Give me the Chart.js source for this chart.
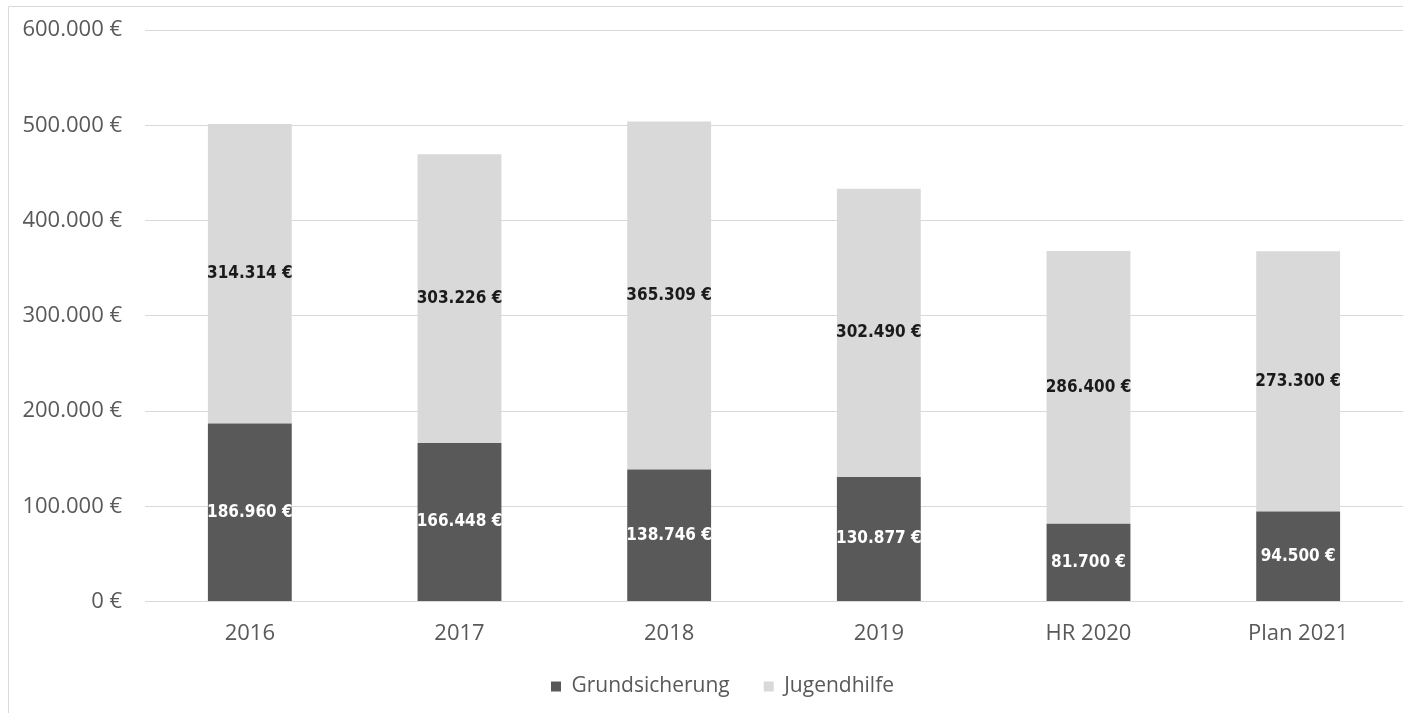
<!DOCTYPE html>
<html lang="de">
<head>
<meta charset="utf-8">
<title>Grundsicherung und Jugendhilfe</title>
<script src="https://cdn.jsdelivr.net/npm/chart.js@4/dist/chart.umd.min.js"></script>
<style>
  html, body { margin: 0; padding: 0; background: #fff; }
  #wrap { position: relative; width: 1403px; height: 713px; }
</style>
</head>
<body>
<div id="wrap"><canvas id="costChart" width="1403" height="713"></canvas></div>
<script>
// Jahre / Planwerte
const years = ['2016', '2017', '2018', '2019', 'HR 2020', 'Plan 2021'];
const grundsicherung = [186960, 166448, 138746, 130877, 81700, 94500];
const jugendhilfe = [314314, 303226, 365309, 302490, 286400, 273300];
const yTicks = [0, 100000, 200000, 300000, 400000, 500000, 600000];

const DARK = '#595959';
const LIGHT = '#d9d9d9';
const FONT = '"Open Sans", sans-serif';

// 1234567 -> "1.234.567 €"
function euro(v) {
  return String(Math.round(v)).replace(/\B(?=(\d{3})+(?!\d))/g, '.') + ' €';
}

// thin frame around the whole chart
const frame = {
  id: 'frame',
  beforeDraw(chart) {
    const ctx = chart.ctx;
    ctx.save();
    ctx.strokeStyle = LIGHT;
    ctx.lineWidth = 1;
    ctx.beginPath();
    ctx.moveTo(8.5, chart.height);
    ctx.lineTo(8.5, 6.5);
    ctx.lineTo(chart.width, 6.5);
    ctx.stroke();
    ctx.restore();
  }
};

// nudge the legend box: centred under the framed area, a bit higher
const legendShift = {
  id: 'legendShift',
  afterLayout(chart) {
    const lg = chart.legend;
    lg.left += 21;
    lg.right += 21;
    lg.top -= 24;
    lg.bottom -= 24;
  }
};

// value labels in the middle of every segment
const segmentLabels = {
  id: 'segmentLabels',
  afterDatasetsDraw(chart) {
    const ctx = chart.ctx;
    ctx.save();
    ctx.font = 'bold 17px "DejaVu Sans Condensed", "DejaVu Sans", sans-serif';
    ctx.textAlign = 'center';
    ctx.textBaseline = 'middle';
    chart.data.datasets.forEach((ds, i) => {
      const meta = chart.getDatasetMeta(i);
      meta.data.forEach((bar, j) => {
        const p = bar.getCenterPoint();
        ctx.fillStyle = ds.labelColor;
        ctx.fillText(euro(ds.data[j]), p.x, p.y);
      });
    });
    ctx.restore();
  }
};

new Chart(document.getElementById('costChart'), {
  type: 'bar',
  data: {
    labels: years,
    datasets: [
      {
        label: 'Grundsicherung',
        data: grundsicherung,
        backgroundColor: DARK,
        labelColor: '#ffffff'
      },
      {
        label: 'Jugendhilfe',
        data: jugendhilfe,
        backgroundColor: LIGHT,
        labelColor: '#1a1a1a'
      }
    ]
  },
  options: {
    responsive: false,
    animation: false,
    devicePixelRatio: 1,
    categoryPercentage: 1,
    barPercentage: 0.4,
    layout: { padding: { left: 0, right: 0, top: 30, bottom: -18 } },
    plugins: {
      legend: {
        position: 'bottom',
        labels: {
          color: DARK,
          font: { family: FONT, size: 21 },
          boxWidth: 10,
          boxHeight: 10,
          padding: 34
        }
      },
      tooltip: { enabled: false }
    },
    scales: {
      x: {
        stacked: true,
        grid: { display: false, drawTicks: false },
        border: { display: false },
        ticks: {
          color: DARK,
          font: { family: FONT, size: 22 },
          padding: 19
        }
      },
      y: {
        stacked: true,
        min: 0,
        max: 600000,
        afterBuildTicks(scale) {
          scale.ticks = yTicks.map(v => ({ value: v }));
        },
        // invisible tick marks keep the labels away from the plot
        grid: { color: LIGHT, lineWidth: 1, drawTicks: true, tickLength: 23, tickColor: 'rgba(0,0,0,0)' },
        border: { display: false },
        ticks: {
          color: DARK,
          font: { family: FONT, size: 22 },
          padding: 0,
          callback: v => euro(v)
        },
        afterFit(scale) { scale.width = 145; }
      }
    }
  },
  plugins: [frame, legendShift, segmentLabels]
});
</script>
</body>
</html>
